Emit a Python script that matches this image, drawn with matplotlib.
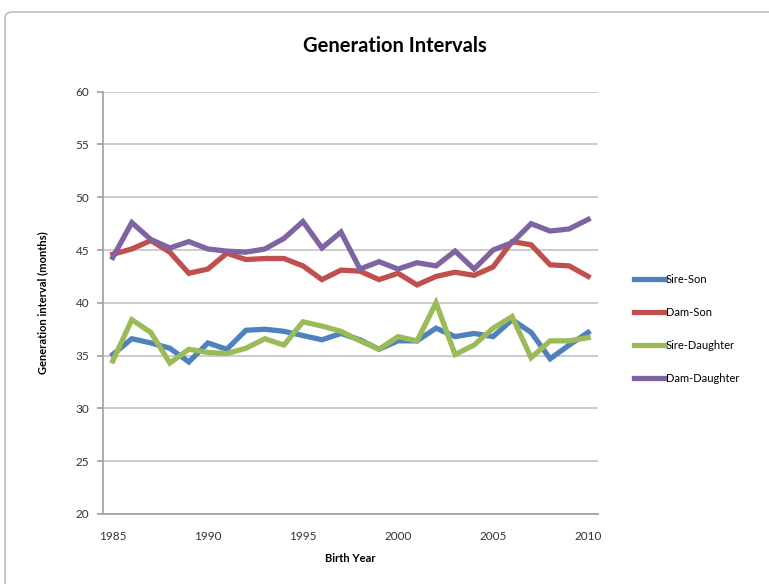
import matplotlib.pyplot as plt
from matplotlib.patches import FancyBboxPatch

# Generation intervals (months) by birth year
years = list(range(1985, 2011))
sire_son = [35.1, 36.6, 36.2, 35.7, 34.4, 36.2, 35.6, 37.4, 37.5, 37.3, 36.9, 36.5, 37.1,
            36.5, 35.6, 36.4, 36.4, 37.6, 36.8, 37.1, 36.8, 38.4, 37.2, 34.7, 36.0, 37.2]
dam_son = [44.6, 45.1, 45.9, 44.8, 42.8, 43.2, 44.7, 44.1, 44.2, 44.2, 43.5, 42.2, 43.1,
           43.0, 42.2, 42.8, 41.7, 42.5, 42.9, 42.6, 43.4, 45.8, 45.5, 43.6, 43.5, 42.5]
sire_daughter = [34.5, 38.4, 37.2, 34.3, 35.6, 35.3, 35.2, 35.7, 36.6, 36.0, 38.2, 37.8, 37.3,
                 36.4, 35.6, 36.8, 36.4, 40.0, 35.1, 36.0, 37.6, 38.7, 34.8, 36.4, 36.4, 36.7]
dam_daughter = [44.3, 47.6, 46.0, 45.2, 45.8, 45.1, 44.9, 44.8, 45.1, 46.1, 47.7, 45.2, 46.7,
                43.2, 43.9, 43.2, 43.8, 43.5, 44.9, 43.2, 45.0, 45.7, 47.5, 46.8, 47.0, 47.9]

series = [
    ("Sire-Son", sire_son, "#4F81BD"),
    ("Dam-Son", dam_son, "#C0504D"),
    ("Sire-Daughter", sire_daughter, "#9BBB59"),
    ("Dam-Daughter", dam_daughter, "#8064A2"),
]

plt.rcParams['font.family'] = ['Lato', 'DejaVu Sans']

fig = plt.figure(figsize=(7.69, 5.84), dpi=100)

# chart frame, running off the right and bottom edges
frame = FancyBboxPatch((5 / 769, -0.2), 1.2, 1.2 - 12 / 584, transform=fig.transFigure,
                       boxstyle="round,pad=0,rounding_size=0.01",
                       facecolor="none", edgecolor="#BFBFBF", linewidth=1.2)
fig.patches.append(frame)

ax = fig.add_axes([0.1343, 0.1199, 0.6429, 0.7231])

lines = []
for name, vals, col in series:
    ln, = ax.plot(years, vals, color=col, linewidth=3.8, solid_joinstyle="miter", label=name)
    lines.append(ln)

ax.set_xlim(1984.5, 2010.5)
ax.set_ylim(20, 60)
ax.set_yticks(range(20, 61, 5))
ax.set_xticks(range(1985, 2011, 5))
ax.yaxis.grid(True, color="#C8C8C8", linewidth=1.3)
ax.set_axisbelow(True)

for side in ("top", "right"):
    ax.spines[side].set_visible(False)
for side in ("left", "bottom"):
    ax.spines[side].set_color("#A6A6A6")
    ax.spines[side].set_linewidth(1.3)

ax.tick_params(axis="y", length=4, width=1.3, color="#A6A6A6", labelsize=8.5, labelcolor="#333333", pad=6)
ax.tick_params(axis="x", length=0, labelsize=8.5, labelcolor="#333333", pad=12)

ax.set_xlabel("Birth Year", fontsize=8, fontweight="bold", labelpad=8)
ax.set_ylabel("Generation interval (months)", fontsize=8, fontweight="bold", labelpad=20)

fig.text(395 / 769, 1 - 46 / 584, "Generation Intervals", ha="center", va="center",
         fontsize=14.5, fontweight="bold")

fig.legend(handles=lines, loc="center left", bbox_to_anchor=(624 / 769, 1 - 329 / 584),
           frameon=False, fontsize=8, handlelength=2.8, handletextpad=0.05,
           labelspacing=2.0)

fig.savefig("out.png", dpi=100)
